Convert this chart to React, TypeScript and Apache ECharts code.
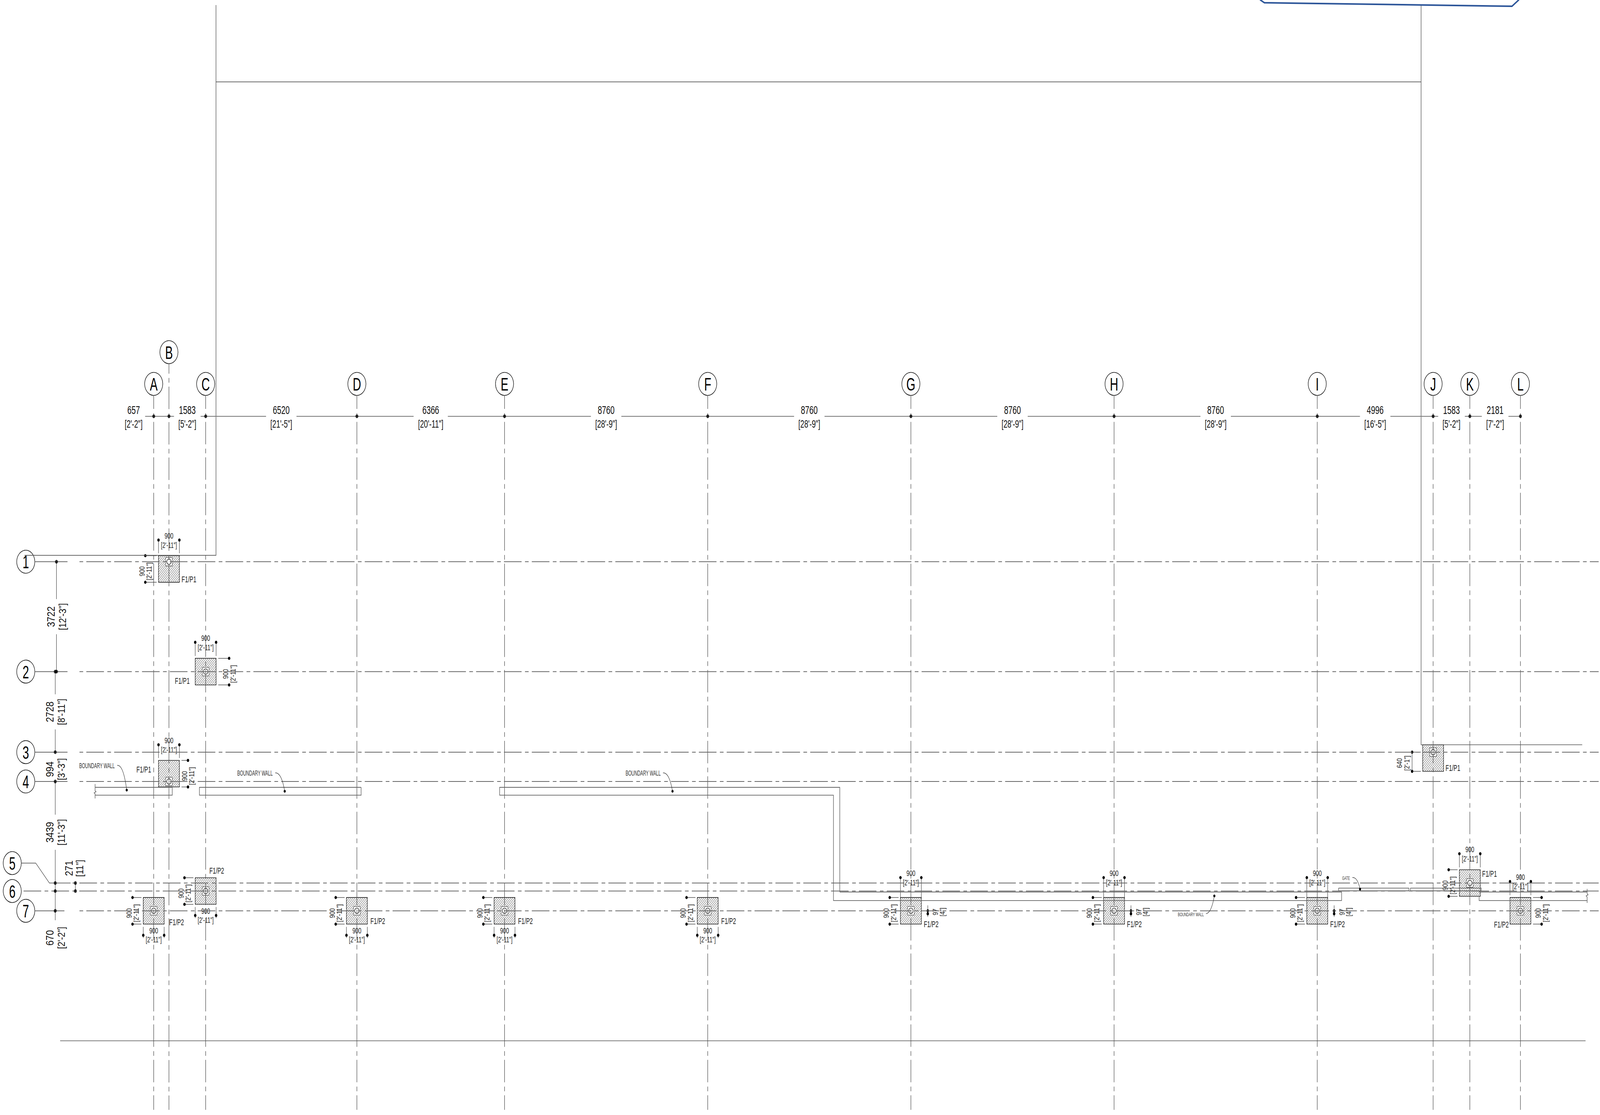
import React, { useEffect, useRef } from "react";
import * as echarts from "echarts";

// ---------- drawing data (millimetres, read from the dimension strings) ----------
const columnLabels = ["A", "B", "C", "D", "E", "F", "G", "H", "I", "J", "K", "L"];
const columnSpacings = [657, 1583, 6520, 6366, 8760, 8760, 8760, 8760, 4996, 1583, 2181];
const columnImperial = ["[2'-2\"]", "[5'-2\"]", "[21'-5\"]", "[20'-11\"]", "[28'-9\"]", "[28'-9\"]", "[28'-9\"]", "[28'-9\"]", "[16'-5\"]", "[5'-2\"]", "[7'-2\"]"];
const rowLabels = ["1", "2", "3", "4", "5", "6", "7"];
const rowSpacings = [3722, 2728, 994, 3439, 271, 670];
const rowImperial = ["[12'-3\"]", "[8'-11\"]", "[3'-3\"]", "[11'-3\"]", "[11\"]", "[2'-2\"]"];

const footingColumns = ["B", "C", "B", "A", "C", "D", "E", "F", "G", "H", "I", "J", "K", "L"];
const footingRows = ["1", "2", "4", "7", "6", "7", "7", "7", "7", "7", "7", "3", "5", "7"];
const footingShifts = [245, 0, -265, 0, 0, 0, 0, 0, 0, 0, 0, 200, 0, 0];
const footingTags = ["F1/P1", "F1/P1", "F1/P1", "F1/P2", "F1/P2", "F1/P2", "F1/P2", "F1/P2", "F1/P2", "F1/P2", "F1/P2", "F1/P1", "F1/P1", "F1/P2"];
const footingSize = 900;
const pedestalSize = 290;
const footingDim = "900";
const footingDimImperial = "[2'-11\"]";

const outlineLines = [
  [[2685, -18853], [2685, -216], [-5569, -216]],
  [[2685, -16253], [54643, -16253]],
  [[54643, -18853], [54643, 6200], [61590, 6200]],
  [[-4035, 16227], [61735, 16227]],
];
const wallLines = [
  [[-2527, 7531], [-2527, 7760], [-2487, 7790], [-2567, 7830], [-2527, 7860], [-2527, 8019]],
  [[-2527, 7642], [799, 7642], [799, 7907], [-2527, 7907]],
  [[8942, 7642], [1971, 7642], [1971, 7907], [8942, 7907], [8942, 7642]],
  [[29579, 11187], [29579, 7642], [14915, 7642], [14915, 7907], [29307, 7907], [29307, 11477], [51216, 11477], [51216, 11187], [29579, 11187]],
  [[51085, 11055], [54114, 11055], [54114, 11147], [51085, 11147], [51085, 11055]],
  [[54180, 11055], [57236, 11055], [57236, 11147], [54180, 11147], [54180, 11055]],
  [[57145, 11187], [61802, 11187]],
  [[57145, 11332], [57145, 11477], [61802, 11477]],
  [[61802, 11081], [61802, 11240], [61842, 11280], [61762, 11320], [61802, 11360], [61802, 11557]],
];
const sealLine = [[47714, -19026], [47886, -18933], [58560, -18814], [58852, -19026]];

const leaderTexts = ["BOUNDARY WALL", "BOUNDARY WALL", "BOUNDARY WALL", "BOUNDARY WALL", "GATE"];
const leaderAnchors = [[-3214, 6909], [3598, 7166], [20345, 7166], [44155, 11937], [51242, 10711]];
const leaderTargets = [[-1164, 7734], [5648, 7774], [22368, 7774], [45729, 11319], [52012, 11090]];

// ---------- derived grid ----------
const cumulate = (a: number[]) => a.reduce((o: number[], v) => [...o, o[o.length - 1] + v], [0]);
const colX = cumulate(columnSpacings);
const rowY = cumulate(rowSpacings);
const X = (l: string) => colX[columnLabels.indexOf(l)];
const Y = (l: string) => rowY[rowLabels.indexOf(l)];

// ---------- page mapping and styles ----------
const W = 5215, H = 2855;
const MM = 13.228, OX = 501, OY = 1438.3;
const FONT = '"Liberation Sans", sans-serif';
const NARROW = 0.82;
const DASH = [57.5, 11, 12, 10.25];
const PERIOD = 90.75;
const mod = (a: number, b: number) => ((a % b) + b) % b;
const pxX = (x: number) => x / MM + OX;
const pxY = (y: number) => y / MM + OY;
const BUBBLE_R = 29.5;

const line = (data: number[][], color: string, width: number, extra: any = {}, z = 4) => ({
  type: "line", data, showSymbol: false, symbol: "none", silent: true, clip: false, z,
  lineStyle: { color, width, cap: "butt", join: "miter", ...extra },
});

function buildSeries() {
  const series: any[] = [];
  const lift = [-6023, -7098, -6023, -6023, -6023, -6023, -6023, -6023, -6023, -6023, -6023, -6023];
  const colBubbles = columnLabels.map((t, i) => ({ t, x: colX[i], y: lift[i] }));
  const rowBubbleX = [-5516, -5516, -5516, -5516, -6098, -6098, -5516];
  const rowBubbles = rowLabels.map((t, i) => ({ t, x: rowBubbleX[i], y: t === "5" ? 10208 : rowY[i] }));

  // Footings and everything that hangs on them
  const footings = footingColumns.map((c, i) => ({ c, r: footingRows[i], shift: footingShifts[i], tag: footingTags[i], i }));
  series.push({
    type: "custom", coordinateSystem: "cartesian2d", clip: false, silent: true, z: 2,
    data: footings.map((f) => [X(f.c), Y(f.r) + f.shift]),
    renderItem: (p: any, api: any) => {
      const f = footings[p.dataIndex];
      const [cx, cy] = api.coord([X(f.c), Y(f.r) + f.shift]);
      const [ex, ey] = api.coord([X(f.c) + footingSize / 2, Y(f.r) + f.shift + footingSize / 2]);
      const hw = ex - cx, hh = ey - cy;
      const L = cx - hw, R = cx + hw, T = cy - hh, B = cy + hh;
      const [gx, gy] = api.coord([X(f.c), Y(f.r)]);
      const [sx] = api.coord([X(f.c) + pedestalSize / 2, 0]);
      const ps = sx - gx;
      const kids: any[] = [
        { type: "rect", shape: { x: L, y: T, width: R - L, height: B - T }, style: { fill: "#fff", stroke: "#222", lineWidth: 1.6 } },
      ];
      const w = R - L, h = B - T, s = 6.5;
      for (let c = -h + s / 2; c < w; c += s) {
        const u0 = Math.max(c, 0), u1 = Math.min(w, c + h);
        kids.push({ type: "line", shape: { x1: L + u0, y1: B - (u0 - c), x2: L + u1, y2: B - (u1 - c) }, style: { stroke: "#222", lineWidth: 1 } });
      }
      kids.push({ type: "rect", shape: { x: gx - ps, y: gy - ps, width: 2 * ps, height: 2 * ps }, style: { fill: "#fff", stroke: "#444", lineWidth: 1.3 } });
      kids.push({ type: "circle", shape: { cx: gx, cy: gy, r: 7 }, style: { fill: "none", stroke: "#111", lineWidth: 1.4 } });

      const stem = (x1: number, y1: number, x2: number, y2: number) =>
        kids.push({ type: "line", shape: { x1, y1, x2, y2 }, style: { stroke: "#222", lineWidth: 1.2 } });
      const dot = (x: number, y: number) =>
        kids.push({ type: "circle", shape: { cx: x, cy: y, r: 4 }, style: { fill: "#000" } });
      const text = (t: string, x: number, y: number, vert = false, align = "center", size = 21) =>
        kids.push({
          type: "text", x, y, rotation: vert ? Math.PI / 2 : 0, scaleX: vert ? 0.72 : NARROW, scaleY: vert ? 1.15 : 1,
          style: { text: t, x: 0, y: 0, align, verticalAlign: "middle", fill: "#222", font: `${size}px ${FONT}` },
        });
      const top = (gap: number) => {
        const d = T - gap, from = gap >= 50 ? T : T - 6;
        stem(L, d, L, from); stem(R, d, R, from); dot(L, d); dot(R, d);
        text(footingDim, cx, d - 11); text(footingDimImperial, cx, d + 13);
      };
      const bottom = () => {
        const d = B + 28.5;
        stem(L, B + 7, L, d + 7); stem(R, B + 7, R, d + 7); dot(L, d); dot(R, d);
        text(footingDim, cx, d - 11.5); text(footingDimImperial, cx, d + 11.5);
      };
      const left = (gap: number) => {
        const d = L - gap;
        stem(d, T, L - 6, T); stem(d, B, L - 6, B); dot(d, T); dot(d, B);
        text(footingDim, d - 11.5, cy + 6, true); text(footingDimImperial, d + 12, cy + 6, true);
      };
      const right = (gap: number) => {
        const d = R + gap;
        stem(R + 7, T, d, T); stem(R + 7, B, d, B); dot(d, T); dot(d, B);
        text(footingDim, d - 11.5, cy + 6, true); text(footingDimImperial, d + 12, cy + 6, true);
      };
      const offsetDim = () => {
        const d = R + 21, y0 = gy, y1 = gy + 7.5;
        stem(d, y0 - 14, d, y0 - 3); stem(d, y1 + 3, d, y1 + 8); dot(d, y0); dot(d, y1);
        text("97", R + 46, gy + 3, true); text('[4"]', R + 68, gy + 3, true);
      };
      const tag = (t: string, x: number, y: number, align: string) => text(t, x, y, false, align, 22);
      switch (f.i) {
        case 0: top(40); left(43); tag(f.tag, R + 7, B - 7.5, "left"); break;
        case 1: top(41); right(42.5); tag(f.tag, L - 18, B - 10, "right"); break;
        case 2: top(40); right(28); tag(f.tag, L - 24, T + 23.5, "right"); break;
        case 3: left(35); bottom(); tag(f.tag, R + 16.4, B - 5, "left"); break;
        case 4: left(35); bottom(); tag(f.tag, R - 22, T - 18.5, "left"); break;
        case 5: case 6: case 7: left(35); bottom(); tag(f.tag, R + 10, B - 8, "left"); break;
        case 8: case 9: case 10: top(51); left(35); offsetDim(); tag(f.tag, R + 8, B, "left"); break;
        case 11: {
          const d = L - 34.5;
          stem(d, gy, L - 6, gy); stem(d, B, L - 6, B); stem(d, gy, d, B); dot(d, gy); dot(d, B);
          text("640", d - 41.7, cy + 13, true); text("[2'-1\"]", d - 17, cy + 13, true);
          tag(f.tag, R + 6.4, B - 8.4, "left"); break;
        }
        case 12: top(41); left(35); tag(f.tag, R + 6, T + 10.7, "left"); break;
        case 13: top(41); right(35); tag(f.tag, L - 4, B + 1, "right"); break;
      }
      return { type: "group", children: kids };
    },
  });

  // Grid lines
  columnLabels.forEach((_, i) => {
    const start = colBubbles[i].y + BUBBLE_R * MM, end = 18564;
    series.push(line([[colX[i], start], [colX[i], end]], "#333", 1.35, {
      type: DASH, dashOffset: mod(pxY(start) - 2714, PERIOD),
    }));
  });
  rowLabels.forEach((t, i) => {
    const late = t === "5" || t === "6";
    const start = t === "5" ? -3585 : t === "6" ? -5714 : -3286;
    const phase = late ? 258.6 : 281;
    series.push(line([[start, rowY[i]], [62300, rowY[i]]], "#666", 2, {
      type: DASH, dashOffset: mod(pxX(start) - phase, PERIOD),
    }));
    if (t === "5") series.push(line([[-5714, 10208], [-5086, 10208], [-4498, rowY[i]], [-3585, rowY[i]]], "#444", 1.3));
    else if (t !== "6") series.push(line([[-5133, rowY[i]], [t === "7" ? -3850 : -3717, rowY[i]]], "#666", 2));
  });

  // Building outline, walls and the stamp's lower edge
  outlineLines.forEach((l) => series.push(line(l, "#555", 1.7)));
  wallLines.forEach((l) => series.push(line(l, "#666", 1.8)));
  series.push(line(sealLine, "#2c5599", 4, { join: "round", cap: "round" }));

  // Column dimension string
  const dimY = -4925;
  const spanText: any[] = [];
  let cursor = -370;
  columnSpacings.forEach((s, i) => {
    const mid = i === 0 ? -866 : colX[i] + s / 2;
    spanText.push({ t: String(s), x: mid, y: dimY, dy: -17, size: 30 });
    spanText.push({ t: columnImperial[i], x: mid, y: dimY, dy: 20, size: 28 });
    if (i > 0) {
      const half = columnImperial[i].length * 6.2 * MM;
      series.push(line([[cursor, dimY], [mid - half, dimY]], "#777", 2));
      cursor = mid + half;
    }
  });
  series.push(line([[cursor, dimY], [colX[11], dimY]], "#777", 2));

  // Row dimension string
  const dimA = -4193, dimB = -4246, dimC = -3377;
  const gap = 45 * MM;
  const mid0 = (rowY[0] + rowY[1]) / 2, mid1 = (rowY[1] + rowY[2]) / 2, mid3 = (rowY[3] + rowY[4]) / 2;
  series.push(line([[dimA, rowY[0]], [dimA, mid0 - gap]], "#222", 1.2));
  series.push(line([[dimA, mid0 + gap], [dimA, rowY[1]]], "#222", 1.2));
  series.push(line([[dimB, rowY[1]], [dimB, mid1 - gap]], "#222", 1.2));
  series.push(line([[dimB, mid1 + gap], [dimB, rowY[2]]], "#222", 1.2));
  series.push(line([[dimB, rowY[3]], [dimB, mid3 - gap]], "#222", 1.2));
  series.push(line([[dimB, mid3 + gap], [dimB, rowY[6] + 320]], "#222", 1.2));
  series.push(line([[dimC, rowY[4]], [dimC, rowY[5]]], "#222", 1.2));

  const rowText: any[] = [
    ...rowSpacings.map((s, i) => {
      const mid = i === 5 ? rowY[6] + 915 : i === 4 ? rowY[4] - 500 : i === 2 ? (rowY[2] + rowY[3]) / 2 + 80 : (rowY[i] + rowY[i + 1]) / 2;
      const x = i === 0 ? dimA : i === 4 ? dimC : dimB;
      return [
        { t: String(s), x, y: mid, dx: i === 4 ? -21.5 : -18, size: 30, vert: true },
        { t: rowImperial[i], x, y: mid, dx: i === 4 ? 14.5 : 20, size: 28, vert: true },
      ];
    }).flat(),
  ];

  // Dimension dots
  const dots = [
    ...colX.map((x) => [x, dimY]),
    [dimA, rowY[0]], [dimA, rowY[1]],
    ...rowY.slice(1).map((y) => [dimB, y]),
    [dimC, rowY[4]], [dimC, rowY[5]],
  ];
  series.push({
    type: "scatter", data: dots, symbol: "circle", symbolSize: 9.5, silent: true, clip: false, z: 5,
    itemStyle: { color: "#000" },
  });

  // Text on the axes of the drawing
  const texts = [...spanText, ...rowText];
  series.push({
    type: "custom", coordinateSystem: "cartesian2d", clip: false, silent: true, z: 6,
    data: texts.map((t) => [t.x, t.y]),
    renderItem: (p: any, api: any) => {
      const t = texts[p.dataIndex];
      const [x, y] = api.coord([t.x, t.y]);
      return {
        type: "text", x: x + (t.dx || 0), y: y + (t.dy || 0),
        rotation: t.vert ? Math.PI / 2 : 0, scaleY: t.vert ? 1.18 : 1, scaleX: t.vert ? 0.795 : NARROW,
        style: { text: t.t, x: 0, y: 0, align: "center", verticalAlign: "middle", fill: "#111", font: `${t.size}px ${FONT}` },
      };
    },
  });

  // Bubbles
  const bubbles = [...colBubbles, ...rowBubbles];
  series.push({
    type: "custom", coordinateSystem: "cartesian2d", clip: false, silent: true, z: 3,
    data: bubbles.map((b) => [b.x, b.y]),
    renderItem: (p: any, api: any) => {
      const b = bubbles[p.dataIndex];
      const [x, y] = api.coord([b.x, b.y]);
      return {
        type: "group",
        children: [
          { type: "circle", shape: { cx: x, cy: y, r: BUBBLE_R }, style: { fill: "#fff", stroke: "#111", lineWidth: 1.6 } },
          { type: "text", x, y: y + 1, scaleX: NARROW, style: { text: b.t, x: 0, y: 0, align: "center", verticalAlign: "middle", fill: "#000", font: `46px ${FONT}` } },
        ],
      };
    },
  });

  // Callouts
  const widths = [116, 116, 114, 84, 25];
  const sizes = [18, 18, 18, 13.5, 13.5];
  const squeeze = [0.75, 0.75, 0.74, 0.73, 0.7];
  series.push({
    type: "custom", coordinateSystem: "cartesian2d", clip: false, silent: true, z: 6,
    data: leaderAnchors,
    renderItem: (p: any, api: any) => {
      const i = p.dataIndex;
      const [x, y] = api.coord(leaderAnchors[i]);
      const [ex, ey] = api.coord(leaderTargets[i]);
      const sx = x + widths[i] + 8, sy = y - 1;
      return {
        type: "group",
        children: [
          { type: "text", x, y, scaleX: squeeze[i], style: { text: leaderTexts[i], x: 0, y: 0, align: "left", verticalAlign: "middle", fill: "#333", font: `${sizes[i]}px ${FONT}` } },
          { type: "bezierCurve", shape: { x1: sx, y1: sy, x2: ex, y2: ey, cpx1: sx + (ex - sx) * 0.65, cpy1: sy - 2 }, style: { fill: "none", stroke: "#222", lineWidth: 1.2 } },
          { type: "circle", shape: { cx: ex, cy: ey, r: 3.5 }, style: { fill: "#000" } },
        ],
      };
    },
  });
  return series;
}

export default function App() {
  const ref = useRef<HTMLDivElement>(null);
  // The browser's window can be narrower than the drawing: fit the whole sheet into what is visible.
  const fitX = typeof window === "undefined" ? 1 : Math.min(1, window.innerWidth / W);
  const fitY = typeof window === "undefined" ? 1 : Math.min(1, window.innerHeight / H);
  useEffect(() => {
    document.body.style.margin = "0";
    const chart = echarts.init(ref.current!, undefined, { renderer: "svg", width: W, height: H });
    chart.setOption({
      animation: false,
      backgroundColor: "#fff",
      legend: { show: false },
      tooltip: { show: false },
      grid: { left: 0, right: 0, top: 0, bottom: 0 },
      xAxis: { type: "value", min: -OX * MM, max: (W - OX) * MM, show: false },
      yAxis: { type: "value", inverse: true, min: -OY * MM, max: (H - OY) * MM, show: false },
      series: buildSeries(),
    });
    return () => chart.dispose();
  }, []);
  return (
    <div style={{ width: W * fitX, height: H * fitY, overflow: "hidden" }}>
      <div ref={ref} style={{ width: W, height: H, transformOrigin: "0 0", transform: `scale(${fitX}, ${fitY})` }} />
    </div>
  );
}
